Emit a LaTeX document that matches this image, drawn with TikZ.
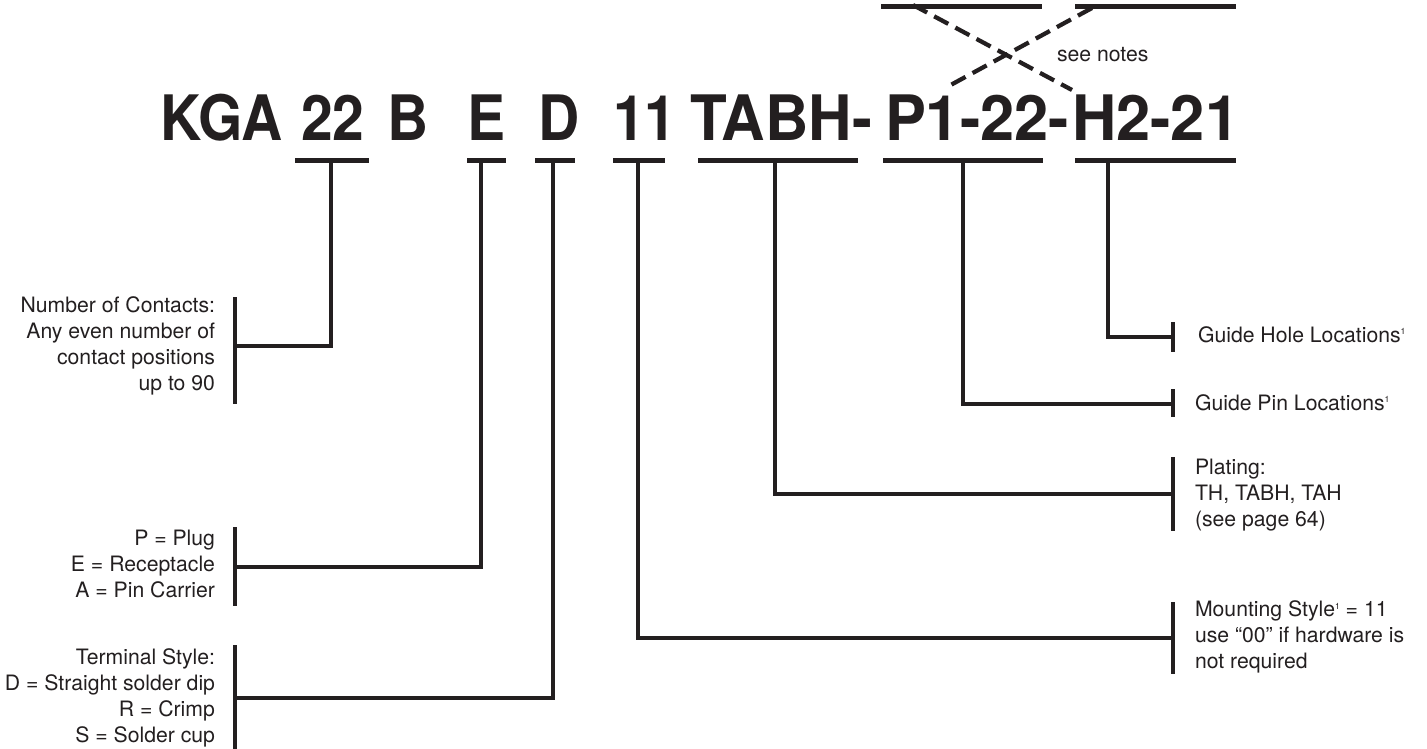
\documentclass[tikz,border=0pt]{standalone}
\usepackage{fontspec}
\setmainfont{TeX Gyre Heros}
\usepackage{graphicx}
\definecolor{ink}{HTML}{231F20}
\newcommand{\noteone}{\raisebox{5.5pt}{\fontsize{6.5}{7}\selectfont 1}}
\newcommand{\codetext}[2][0.91]{\scalebox{#1}[1]{#2}}
\begin{document}
\begin{tikzpicture}[x=0.75pt,y=-0.75pt,inner sep=0pt,outer sep=0pt,line width=3.6pt,color=ink,
partcode/.style={anchor=base west,font=\fontsize{47}{50}\selectfont\bfseries},
note/.style={font=\fontsize{15.9}{19.3}\selectfont},
leftnote/.style={note,align=right,anchor=base east},
rightnote/.style={note,align=left,anchor=base west},
codeline/.style={line width=3.75pt},
swapline/.style={line width=3.2pt,dash pattern=on 12pt off 6pt}]
\useasboundingbox (0,0) rectangle (1427,749);
% part number
\node[partcode] (kga) at (160,140) {\codetext{KGA}};
\node[partcode] (n22) at (301,140) {\codetext{22}};
\node[partcode] (b) at (387,140) {\codetext{B}};
\node[partcode] (e) at (467,140) {\codetext{E}};
\node[partcode] (d) at (538,140) {\codetext{D}};
\node[partcode] (n11) at (613,140) {\codetext{11}};
\node[partcode] (tabh) at (690,140) {\codetext[0.96]{TABH-}};
\node[partcode] (p122) at (885,140) {\codetext[0.98]{P1-22-}};
\node[partcode] (h221) at (1072,140) {\codetext[0.98]{H2-21}};
% underlines
\foreach \a/\b/\s/\n in {295/369/331/u22,467/506/481/ue,535/575/553/ud,613/665/638/u11,
  698/858/775/utabh,883/1043/963/upin,1075/1236/1108/uhole}{
  \draw[codeline] (\a,160) -- (\b,160);
  \coordinate (\n) at (\s,160);
}
% swapped positions, see notes
\draw[codeline] (881,7) coordinate (tl) -- (1042,7);
\draw[codeline] (1075,7) -- (1236,7) coordinate (tr);
\draw[swapline] (913,5) -- (1072,90);
\draw[swapline] (1092,8) -- (947,87);
\node[note,anchor=base west] (seenotes) at (1057,62) {see notes};
% descriptions (base = last line)
\node[leftnote] (contacts) at (215,390) {Number of Contacts:\\Any even number of\\contact positions\\up to 90};
\node[leftnote] (gender) at (215,597) {P = Plug\\E = Receptacle\\A = Pin Carrier};
\node[leftnote] (terminal) at (215,742) {Terminal Style:\\D = Straight solder dip\\R = Crimp\\S = Solder cup};
\node[rightnote] (hole) at (1198,342) {Guide Hole Locations\noteone};
\node[rightnote] (pin) at (1195,410) {Guide Pin Locations\noteone};
\node[rightnote] (plating) at (1195,526) {Plating:\\TH, TABH, TAH\\(see page 64)};
\node[rightnote] (mount) at (1195,668) {Mounting Style\noteone{} = 11\\use “00” if hardware is\\not required};
% brackets
\foreach \x/\t/\b/\m/\n in {235/297/404/346/bcont,235/527/606/567/bgend,235/645/749/698/bterm,
  1173/322/352/337/bhole,1173/389/417/404/bpin,1173/457/531/494/bplat,1173/602/674/638/bmount}{
  \draw (\x,\t) -- (\x,\b);
  \coordinate (\n) at (\x,\m);
}
% leaders
\draw (u22) |- (bcont);
\draw (ue) |- (bgend);
\draw (ud) |- (bterm);
\draw (u11) |- (bmount);
\draw (utabh) |- (bplat);
\draw (upin) |- (bpin);
\draw (uhole) |- (bhole);
\end{tikzpicture}
\end{document}
